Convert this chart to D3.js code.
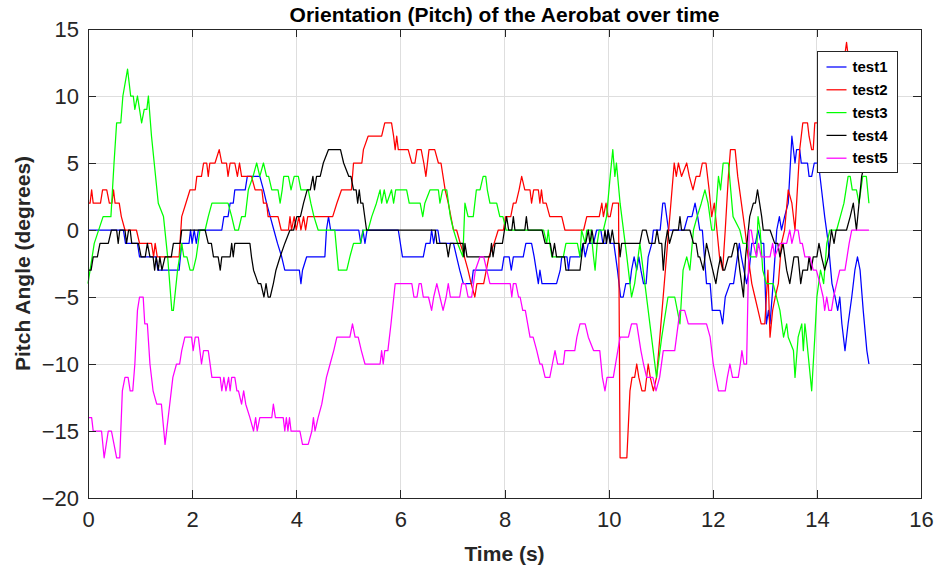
<!DOCTYPE html>
<html>
<head>
<meta charset="utf-8">
<script src="https://cdn.jsdelivr.net/npm/d3@7"></script>
<style>
  html, body { margin: 0; padding: 0; background: #fff; }
  svg { display: block; font-family: "Liberation Sans", Arial, Helvetica, sans-serif; }
</style>
</head>
<body>
<svg id="chart" width="938" height="571"></svg>
<script>
// Pitch samples, [time (s), pitch (deg)], one array per run
const test1 = [[0,0],[0.68,0],[0.72,-1],[0.95,-1],[0.99,-2],[1.31,-2],[1.34,-3],[1.75,-3],[1.80,-1],[1.94,-1],[1.97,0],[2.0,-1],[2.04,0],[2.08,-1],[2.12,0],[2.57,0],[2.61,1],[2.69,1],[2.73,2],[2.79,2],[2.82,3],[3.02,3],[3.06,4],[3.30,4],[3.37,3],[3.43,2],[3.50,1],[3.57,0],[3.64,-1],[3.72,-2],[3.78,-3],[4.06,-3],[4.09,-4],[4.12,-3],[4.20,-2],[4.55,-2],[4.58,0],[4.62,1],[4.66,0],[5.20,0],[5.24,-1],[5.28,0],[5.32,-1],[5.36,0],[5.96,0],[6.04,-2],[6.44,-2],[6.49,-1],[6.57,-1],[6.60,0],[6.64,-1],[6.68,0],[6.72,0],[6.76,-1],[7.02,-1],[7.08,-2],[7.14,-3],[7.21,-4],[7.37,-4],[7.40,-3],[7.95,-3],[7.99,-2],[8.09,-2],[8.13,-3],[8.17,-2],[8.36,-2],[8.41,-1],[8.52,-1],[8.57,-2],[8.65,-4],[8.68,-3],[8.72,-4],[9.0,-4],[9.07,-3],[9.10,-2],[9.20,-2],[9.23,-3],[9.26,-2],[9.45,-2],[9.51,-1],[9.55,-2],[9.61,-1],[9.71,-1],[9.77,0],[9.85,0],[9.89,-1],[9.95,-1],[9.99,0],[10.03,-1],[10.10,-1],[10.17,-3],[10.23,-5],[10.28,-5],[10.33,-4],[10.41,-4],[10.44,-3],[10.49,-2],[10.54,-3],[10.58,-2],[10.62,-3],[10.67,-4],[10.72,-4],[10.76,-2],[10.83,-1],[10.86,0],[10.99,0],[11.04,2],[11.08,2],[11.15,0],[11.45,0],[11.52,1],[11.60,1],[11.66,2],[11.71,1],[11.75,0],[11.80,0],[11.88,-4],[11.95,-4],[11.99,-6],[12.14,-6],[12.19,-7],[12.24,-5],[12.33,-4],[12.40,-4],[12.51,-1],[12.55,-2],[12.65,-4],[12.70,-3],[12.75,-1],[12.82,-1],[12.87,0],[12.93,-1],[12.98,-1],[13.03,-7],[13.07,-6],[13.10,-7],[13.16,-4],[13.23,0],[13.28,1],[13.32,0],[13.38,1],[13.45,2],[13.52,7],[13.58,5],[13.61,6],[13.67,6],[13.70,5],[13.82,5],[13.85,4],[13.90,4],[13.95,5],[14.03,5],[14.09,3],[14.15,1],[14.22,-1],[14.29,-4],[14.35,-5],[14.40,-6],[14.44,-5],[14.48,-7],[14.54,-9],[14.60,-7],[14.67,-5],[14.73,-3],[14.78,-2],[14.83,-3],[14.89,-6],[14.96,-9],[15.0,-10]];

const test2 = [[0,2],[0.04,2],[0.07,3],[0.10,2],[0.24,2],[0.28,3],[0.36,3],[0.41,2],[0.46,2],[0.49,3],[0.52,2],[0.60,2],[0.64,1],[0.71,0],[0.93,0],[0.99,-1],[1.22,-1],[1.26,-2],[1.29,-1],[1.33,-2],[1.75,-2],[1.80,1],[1.88,2],[1.96,3],[2.06,3],[2.09,4],[2.18,4],[2.22,5],[2.28,5],[2.31,4],[2.34,5],[2.44,5],[2.52,6],[2.57,5],[2.66,5],[2.69,4],[2.73,5],[2.82,5],[2.87,4],[2.91,5],[2.95,4],[3.14,4],[3.21,3],[3.34,3],[3.37,2],[3.43,2],[3.46,1],[3.65,1],[3.71,0],[3.85,0],[3.88,1],[3.91,0],[3.96,1],[4.0,0],[4.05,1],[4.09,0],[4.14,1],[4.18,0],[4.22,1],[4.70,1],[4.78,2],[4.87,3],[5.06,3],[5.10,5],[5.26,5],[5.29,6],[5.38,7],[5.64,7],[5.70,8],[5.83,8],[5.87,7],[5.90,6],[5.93,7],[5.96,6],[6.15,6],[6.22,5],[6.28,5],[6.32,6],[6.40,6],[6.45,5],[6.49,4],[6.55,6],[6.66,6],[6.73,5],[6.78,5],[6.86,3],[6.92,2],[7.02,0],[7.08,0],[7.15,-1],[7.23,-2],[7.30,-3],[7.36,-4],[7.43,-5],[7.47,-4],[7.60,-4],[7.70,-2],[7.80,-1],[7.88,0],[7.98,0],[8.02,1],[8.12,1],[8.17,2],[8.22,2],[8.28,3],[8.33,4],[8.39,3],[8.49,3],[8.52,2],[8.56,3],[8.65,3],[8.68,2],[8.71,3],[8.74,2],[8.80,2],[8.87,1],[9.10,1],[9.16,0],[9.52,0],[9.58,1],[9.82,1],[9.87,2],[9.90,1],[9.95,2],[9.99,1],[10.03,1],[10.08,2],[10.19,2],[10.22,-17],[10.35,-17],[10.41,-12],[10.45,-11],[10.50,-11],[10.54,-10],[10.58,-11],[10.64,-12],[10.70,-12],[10.76,-10],[10.80,-11],[10.86,-12],[10.92,-11],[11.26,5],[11.30,4],[11.34,5],[11.40,4],[11.50,5],[11.55,4],[11.62,3],[11.68,4],[11.75,4],[11.80,5],[11.87,5],[11.93,3],[11.98,1],[12.03,2],[12.08,0],[12.13,-2],[12.19,-3],[12.24,0],[12.30,4],[12.34,6],[12.43,6],[12.48,4],[12.55,2],[12.62,0],[12.68,-2],[12.75,-4],[12.81,-5],[12.87,-6],[12.93,-7],[13.0,-7],[13.03,-5],[13.06,-3],[13.10,-8],[13.15,-6],[13.20,-5],[13.26,-4],[13.32,-1],[13.38,0],[13.45,3],[13.52,2],[13.58,0],[13.64,4],[13.67,6],[13.73,8],[13.82,8],[13.85,7],[13.90,6],[13.93,6],[13.96,8],[14.03,8],[14.10,8],[14.20,9],[14.35,10],[14.50,12],[14.57,14],[14.63,12],[14.70,11]];

const test3 = [[0,-4],[0.04,-3],[0.12,-1],[0.29,1],[0.44,1],[0.50,5],[0.55,8],[0.63,8],[0.67,10],[0.76,12],[0.82,10],[0.87,10],[0.90,9],[0.95,10],[1.03,8],[1.08,9],[1.13,9],[1.16,10],[1.22,7],[1.35,2],[1.45,1],[1.53,-2],[1.61,-6],[1.64,-6],[1.72,-3],[1.80,-1],[1.84,-2],[1.90,-2],[1.96,-3],[2.02,-3],[2.08,-2],[2.15,0],[2.25,0],[2.31,1],[2.38,2],[2.44,2],[2.69,2],[2.76,1],[2.82,0],[2.89,0],[2.95,1],[3.02,1],[3.08,3],[3.17,4],[3.24,5],[3.30,4],[3.37,5],[3.43,4],[3.47,4],[3.53,3],[3.65,3],[3.69,2],[3.73,3],[3.76,4],[3.85,4],[3.90,3],[3.96,4],[4.04,4],[4.09,3],[4.23,3],[4.28,2],[4.34,1],[4.42,0],[4.74,0],[4.81,-3],[4.97,-3],[5.03,-2],[5.10,-1],[5.23,-1],[5.29,0],[5.38,0],[5.45,1],[5.54,2],[5.61,3],[5.64,2],[5.69,3],[5.74,2],[5.83,3],[5.87,2],[5.91,3],[6.12,3],[6.17,2],[6.38,2],[6.43,1],[6.47,2],[6.57,3],[6.73,3],[6.76,2],[6.81,3],[6.89,3],[6.96,1],[7.02,0],[7.10,-1],[7.20,-2],[7.24,2],[7.30,1],[7.40,1],[7.46,3],[7.53,3],[7.59,4],[7.64,4],[7.67,3],[7.72,2],[7.85,2],[7.91,1],[7.97,1],[8.03,0],[8.75,0],[8.81,-1],[8.84,0],[8.87,-1],[8.91,-2],[9.13,-2],[9.18,-1],[9.40,-1],[9.45,-2],[9.48,0],[9.55,-1],[9.58,0],[9.66,0],[9.71,-2],[9.74,-3],[9.78,-1],[9.82,0],[9.90,0],[9.96,1],[10.03,4],[10.08,6],[10.12,4],[10.15,5],[10.22,2],[10.35,-2],[10.44,-5],[10.50,-4],[10.60,-1],[10.92,-11],[11.02,-8],[11.14,-5],[11.27,-5],[11.37,-7],[11.43,-3],[11.50,-2],[11.56,-3],[11.63,0],[11.70,1],[11.78,2],[11.85,3],[11.91,2],[11.98,0],[12.03,0],[12.11,4],[12.15,3],[12.20,5],[12.30,5],[12.39,1],[12.52,0],[12.58,-1],[12.65,-1],[12.72,-2],[12.84,-2],[12.87,1],[12.91,0],[12.96,-3],[13.03,-4],[13.16,-4],[13.29,-6],[13.36,-8],[13.42,-7],[13.45,-8],[13.55,-9],[13.58,-11],[13.64,-8],[13.71,-7],[13.74,-9],[13.77,-7],[13.80,-8],[13.90,-12],[13.96,-8],[14.0,-5],[14.07,-3],[14.13,-4],[14.19,-1],[14.25,0],[14.38,0],[14.45,1],[14.52,2],[14.60,4],[14.64,4],[14.68,3],[14.76,3],[14.81,2],[14.88,4],[14.95,4],[15.0,2]];

const test4 = [[0,-3],[0.06,-3],[0.10,-2],[0.18,-2],[0.23,-1],[0.39,-1],[0.45,0],[0.55,0],[0.58,-1],[0.61,0],[0.71,0],[0.74,-1],[0.78,0],[0.81,0],[0.84,-1],[0.97,-1],[1.02,-2],[1.10,-2],[1.14,-1],[1.19,-2],[1.25,-2],[1.28,-3],[1.31,-2],[1.35,-3],[1.38,-2],[1.42,-3],[1.48,-2],[1.60,-2],[1.64,-1],[1.77,-1],[1.80,0],[2.25,0],[2.31,-1],[2.37,-1],[2.41,-2],[2.50,-2],[2.54,-3],[2.57,-2],[2.73,-2],[2.76,-1],[2.79,-2],[2.82,-1],[3.11,-1],[3.14,-2],[3.18,-3],[3.27,-4],[3.32,-4],[3.38,-5],[3.42,-4],[3.46,-5],[3.50,-5],[3.56,-4],[3.61,-3],[3.69,-2],[3.78,-1],[3.88,0],[3.95,0],[4.01,1],[4.08,1],[4.14,2],[4.21,3],[4.27,3],[4.32,4],[4.35,3],[4.39,4],[4.46,4],[4.52,5],[4.62,6],[4.85,6],[4.91,5],[5.01,4],[5.05,4],[5.10,3],[5.15,3],[5.18,2],[5.21,3],[5.24,2],[5.28,2],[5.35,0],[6.67,0],[6.70,-1],[6.88,-1],[6.92,-2],[6.96,-1],[7.20,-1],[7.22,-2],[7.24,-1],[7.28,-2],[7.72,-2],[7.75,-1],[7.78,-2],[7.82,-1],[7.96,-1],[8.0,0],[8.04,1],[8.08,0],[8.14,0],[8.17,1],[8.20,0],[8.39,0],[8.42,1],[8.45,0],[8.72,0],[8.78,-1],[8.88,-1],[8.92,-2],[8.96,-1],[9.0,-2],[9.15,-2],[9.18,-3],[9.45,-3],[9.51,-1],[9.56,-1],[9.61,0],[9.64,-1],[9.68,0],[9.72,-1],[9.80,-1],[9.90,-1],[9.93,0],[9.96,-1],[9.99,0],[10.03,-1],[10.07,0],[10.11,-1],[10.20,-1],[10.22,-2],[10.25,-1],[10.60,-1],[10.65,0],[10.72,0],[10.78,-1],[10.89,-1],[10.93,0],[10.97,-1],[11.02,-1],[11.05,-3],[11.09,-1],[11.13,0],[11.17,-1],[11.24,0],[11.34,0],[11.37,1],[11.40,0],[11.56,0],[11.63,-1],[11.68,-1],[11.72,-2],[11.75,-2],[11.82,-3],[11.88,-1],[11.94,-2],[12.0,-3],[12.06,-4],[12.10,-3],[12.15,-2],[12.20,-3],[12.23,-3],[12.30,-2],[12.36,-2],[12.42,-1],[12.46,-1],[12.49,-2],[12.52,-3],[12.59,-5],[12.63,-2],[12.71,1],[12.78,2],[12.82,2],[12.86,3],[12.90,2],[12.94,1],[12.97,0],[13.10,0],[13.19,-1],[13.25,-1],[13.29,-2],[13.35,-1],[13.42,-3],[13.48,-4],[13.52,-3],[13.56,-2],[13.64,-2],[13.69,-4],[13.73,-3],[13.82,-3],[13.85,-2],[13.89,-3],[13.93,-2],[14.0,-2],[14.04,-1],[14.09,-2],[14.15,-3],[14.22,-2],[14.28,0],[14.33,-1],[14.37,0],[14.57,0],[14.64,1],[14.70,2],[14.73,1],[14.76,0],[14.81,2],[14.86,4],[14.92,5],[15.0,6]];

const test5 = [[0,-14],[0.07,-14],[0.10,-15],[0.26,-15],[0.31,-17],[0.35,-16],[0.39,-15],[0.45,-15],[0.50,-16],[0.55,-17],[0.61,-17],[0.66,-12],[0.71,-11],[0.77,-11],[0.81,-12],[0.86,-12],[0.90,-10],[0.95,-6],[0.99,-5],[1.06,-5],[1.09,-7],[1.14,-7],[1.19,-10],[1.25,-12],[1.32,-13],[1.41,-13],[1.48,-16],[1.57,-13],[1.63,-11],[1.70,-10],[1.76,-10],[1.80,-9],[1.86,-8],[1.99,-8],[2.02,-9],[2.06,-8],[2.12,-8],[2.18,-10],[2.22,-9],[2.31,-9],[2.38,-11],[2.54,-11],[2.57,-12],[2.61,-11],[2.65,-12],[2.70,-11],[2.73,-12],[2.76,-11],[2.82,-11],[2.86,-12],[2.89,-12],[2.95,-13],[2.99,-12],[3.03,-13],[3.11,-14],[3.18,-15],[3.22,-14],[3.25,-15],[3.30,-14],[3.53,-14],[3.56,-13],[3.60,-14],[3.75,-14],[3.78,-15],[3.81,-14],[3.84,-15],[3.87,-14],[3.90,-15],[4.07,-15],[4.12,-16],[4.23,-16],[4.30,-15],[4.33,-14],[4.36,-15],[4.42,-14],[4.49,-13],[4.58,-11],[4.65,-10],[4.72,-9],[4.78,-8],[5.03,-8],[5.08,-7],[5.13,-8],[5.19,-8],[5.25,-9],[5.32,-10],[5.61,-10],[5.64,-9],[5.67,-10],[5.70,-9],[5.76,-9],[5.82,-7],[5.90,-4],[6.22,-4],[6.26,-5],[6.32,-5],[6.36,-4],[6.40,-4],[6.44,-5],[6.54,-5],[6.60,-6],[6.64,-5],[6.70,-4],[6.76,-5],[6.82,-6],[6.88,-5],[6.92,-4],[6.96,-5],[7.14,-5],[7.18,-4],[7.25,-4],[7.30,-5],[7.37,-5],[7.44,-3],[7.53,-2],[7.60,-2],[7.66,-3],[7.72,-4],[8.11,-4],[8.14,-5],[8.17,-4],[8.22,-4],[8.27,-5],[8.30,-5],[8.35,-6],[8.40,-6],[8.49,-8],[8.55,-8],[8.62,-9],[8.68,-10],[8.72,-10],[8.78,-11],[8.87,-11],[8.92,-10],[8.97,-9],[9.02,-10],[9.13,-10],[9.16,-9],[9.35,-9],[9.39,-8],[9.45,-7],[9.55,-7],[9.61,-8],[9.71,-9],[9.83,-9],[9.88,-11],[9.93,-12],[9.97,-11],[10.09,-11],[10.22,-8],[10.38,-8],[10.44,-7],[10.54,-7],[10.62,-9],[10.67,-10],[10.73,-11],[10.85,-11],[10.91,-12],[10.98,-11],[11.05,-9],[11.27,-9],[11.37,-6],[11.46,-6],[11.53,-7],[11.88,-7],[11.95,-8],[12.01,-10],[12.11,-12],[12.24,-12],[12.28,-11],[12.33,-10],[12.38,-11],[12.49,-11],[12.53,-10],[12.56,-9],[12.60,-10],[12.65,-10],[12.70,0],[12.74,0],[12.78,-1],[12.84,-2],[12.88,-1],[12.93,-2],[13.10,-2],[13.15,-1],[13.19,-2],[13.29,-1],[13.42,-1],[13.48,0],[13.52,-1],[13.58,0],[13.64,0],[13.68,-1],[13.72,-1],[13.77,-2],[13.87,-2],[13.93,-3],[13.99,-3],[14.06,-4],[14.12,-5],[14.15,-6],[14.19,-5],[14.23,-6],[14.28,-6],[14.32,-5],[14.38,-4],[14.44,-3],[14.54,-3],[14.58,-2],[14.62,-1],[14.67,0],[15.0,0]];

const seriesNames = ["test1", "test2", "test3", "test4", "test5"];
const seriesColors = ["#0000ff", "#ff0000", "#00ff00", "#000000", "#ff00ff"];
const seriesData = [test1, test2, test3, test4, test5];

const xTicks = [0, 2, 4, 6, 8, 10, 12, 14, 16];
const yTicks = [-20, -15, -10, -5, 0, 5, 10, 15];

const titleText = "Orientation (Pitch) of the Aerobat over time";
const xLabelText = "Time (s)";
const yLabelText = "Pitch Angle (degrees)";

// ---- layout ----
const svg = d3.select("#chart");
const W = 938, H = 571;
const margin = { left: 88, right: 17, top: 29, bottom: 73 };
const plotW = W - margin.left - margin.right;
const plotH = H - margin.top - margin.bottom;
const axisColor = "#262626";
const tickLen = 8;

const x = d3.scaleLinear().domain([0, 16]).range([0, plotW]);
const y = d3.scaleLinear().domain([-20, 15]).range([plotH, 0]);

const g = svg.append("g").attr("transform", `translate(${margin.left},${margin.top})`);

// grid
const grid = g.append("g").attr("class", "grid");
grid.selectAll("line.gx").data(xTicks.slice(1, -1)).join("line")
  .attr("x1", d => x(d)).attr("x2", d => x(d))
  .attr("y1", 0).attr("y2", plotH)
  .attr("stroke", "#dedede").attr("stroke-width", 1).attr("shape-rendering", "crispEdges");
grid.selectAll("line.gy").data(yTicks.slice(1, -1)).join("line")
  .attr("y1", d => y(d)).attr("y2", d => y(d))
  .attr("x1", 0).attr("x2", plotW)
  .attr("stroke", "#dedede").attr("stroke-width", 1).attr("shape-rendering", "crispEdges");

// data lines
const line = d3.line().x(d => x(d[0])).y(d => y(d[1]));
const plot = g.append("g").attr("class", "series");
seriesData.forEach((data, i) => {
  plot.append("path")
    .datum(data)
    .attr("fill", "none")
    .attr("stroke", seriesColors[i])
    .attr("stroke-width", 1.25)
    .attr("stroke-linejoin", "round")
    .attr("d", line);
});

// axes: ticks pointing inward, mirrored on the top and right
function styleAxis(sel) {
  sel.select(".domain").attr("stroke", axisColor);
  sel.selectAll(".tick line").attr("stroke", axisColor);
  sel.selectAll("text").attr("fill", "#262626");
}
const tickFont = 22;
const xAxis = g.append("g").attr("transform", `translate(0,${plotH})`)
  .call(d3.axisBottom(x).tickValues(xTicks).tickSizeInner(-tickLen).tickSizeOuter(0).tickPadding(14));
xAxis.call(styleAxis);
xAxis.selectAll("text").attr("font-size", tickFont).attr("dy", "0.7em");

const yAxis = g.append("g")
  .call(d3.axisLeft(y).tickValues(yTicks).tickSizeInner(-tickLen).tickSizeOuter(0).tickPadding(9));
yAxis.call(styleAxis);
yAxis.selectAll("text").attr("font-size", tickFont).attr("dy", "0.36em");

g.append("g")
  .call(d3.axisTop(x).tickValues(xTicks).tickSizeInner(-tickLen).tickSizeOuter(0).tickFormat(""))
  .call(styleAxis);
g.append("g").attr("transform", `translate(${plotW},0)`)
  .call(d3.axisRight(y).tickValues(yTicks).tickSizeInner(-tickLen).tickSizeOuter(0).tickFormat(""))
  .call(styleAxis);

g.selectAll(".domain, .tick line").attr("shape-rendering", "crispEdges");

// titles
svg.append("text")
  .attr("x", margin.left + plotW / 2).attr("y", 22)
  .attr("text-anchor", "middle").attr("font-weight", "bold").attr("font-size", 21)
  .attr("fill", "#000").text(titleText);

svg.append("text")
  .attr("x", margin.left + plotW / 2).attr("y", 561)
  .attr("text-anchor", "middle").attr("font-weight", "bold").attr("font-size", 21)
  .attr("fill", "#262626").text(xLabelText);

svg.append("text")
  .attr("transform", `translate(30,${margin.top + plotH / 2}) rotate(-90)`)
  .attr("text-anchor", "middle").attr("font-weight", "bold").attr("font-size", 21)
  .attr("fill", "#262626").text(yLabelText);

// legend
const legend = svg.append("g").attr("transform", "translate(817.5,51.5)");
legend.append("rect")
  .attr("width", 80).attr("height", 121)
  .attr("fill", "#fff").attr("stroke", axisColor).attr("stroke-width", 1);
const rows = legend.selectAll("g.row").data(seriesNames).join("g")
  .attr("transform", (d, i) => `translate(0,${15.5 + i * 22.8})`);
rows.append("line")
  .attr("x1", 9).attr("x2", 29).attr("y1", 0).attr("y2", 0)
  .attr("stroke", (d, i) => seriesColors[i]).attr("stroke-width", 1.25);
rows.append("text")
  .attr("x", 35).attr("y", 0).attr("dy", "0.35em")
  .attr("font-size", 15).attr("font-weight", "bold").attr("fill", "#000")
  .text(d => d);
</script>
</body>
</html>
